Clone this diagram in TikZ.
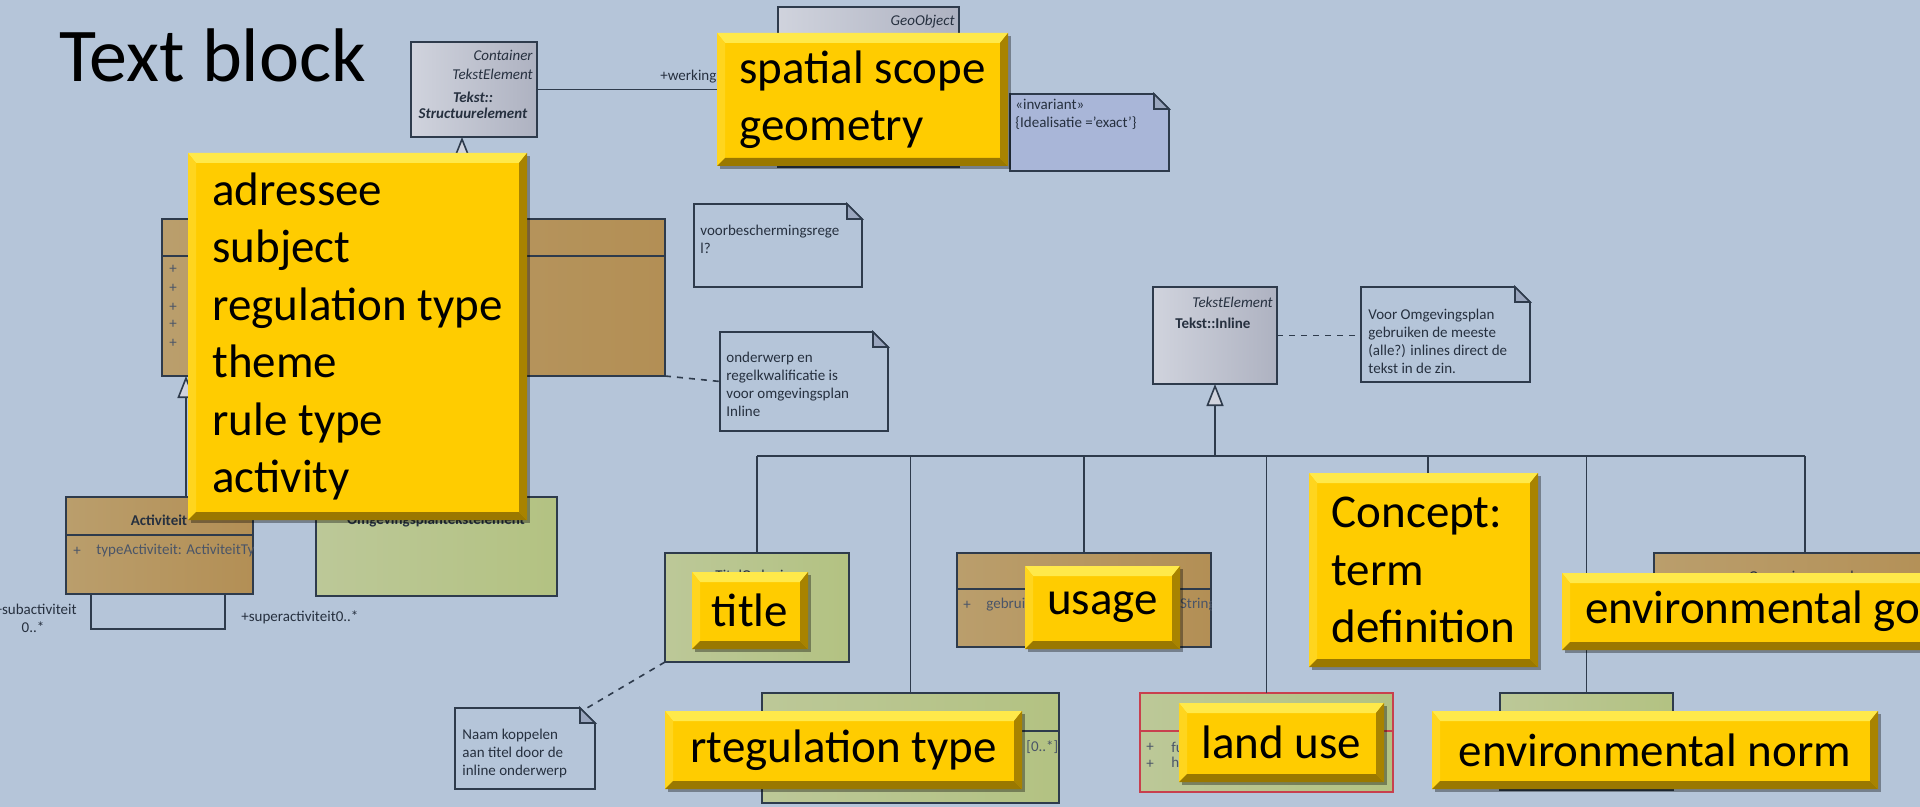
\documentclass[tikz,border=0pt]{standalone}
\usepackage{fontspec}
\setmainfont{Carlito}
\usetikzlibrary{arrows.meta,shadows}
\definecolor{bg}{HTML}{B5C5D9}
\definecolor{edge}{HTML}{2E3B4C}
\definecolor{umltxt}{HTML}{26303F}
\definecolor{attxt}{HTML}{4A5568}
\definecolor{grayL}{HTML}{D0D3DD}
\definecolor{grayR}{HTML}{AEB2C1}
\definecolor{brownL}{HTML}{BA9E6C}
\definecolor{brownR}{HTML}{B38F55}
\definecolor{greenL}{HTML}{BCC898}
\definecolor{greenR}{HTML}{B3C282}
\definecolor{notebg}{HTML}{B5C5D9}
\definecolor{noteinv}{HTML}{A9B6D8}
\definecolor{foldc}{HTML}{9AA6BE}
\definecolor{redb}{HTML}{C8404E}
\definecolor{yface}{HTML}{FFCC00}
\definecolor{ytop}{HTML}{FFE94A}
\definecolor{yleft}{HTML}{FFD51E}
\definecolor{yright}{HTML}{A88300}
\definecolor{ybot}{HTML}{9A7800}
\newcommand\ytext{\fontsize{23.5pt}{28.75pt}\selectfont}
\newcommand\umltext{\fontsize{7.5pt}{9pt}\selectfont}
\newcommand\titletext{\fontsize{38pt}{45pt}\selectfont}
\tikzset{
  wh/.style 2 args={minimum width=#1*0.5pt, minimum height=#2*0.5pt, anchor=north west, inner sep=0pt, outer sep=0pt},
  uml/.style={draw=edge, line width=0.8pt},
  grayc/.style={uml, left color=grayL, right color=grayR},
  brownc/.style={uml, left color=brownL, right color=brownR},
  greenc/.style={uml, left color=greenL, right color=greenR},
  lbl/.style={font=\umltext, text=umltxt, inner sep=0pt},
  attr/.style={font=\umltext, text=attxt, inner sep=0pt},
  conn/.style={draw=edge, line width=0.8pt},
  gen/.style={conn, -{Triangle[length=11pt, width=8.5pt, fill=grayL]}},
  dashc/.style={conn, dash pattern=on 3pt off 3pt},
  ybox/.style={fill=yface, font=\ytext, align=left, text=black,
    drop shadow={shadow xshift=1.5pt, shadow yshift=-1.5pt, opacity=0.35, fill=black},
    path picture={
      \fill[ytop] (path picture bounding box.north west) -- (path picture bounding box.north east)
        -- ([shift={(-4pt,-5pt)}]path picture bounding box.north east) -- ([shift={(4pt,-5pt)}]path picture bounding box.north west) -- cycle;
      \fill[yleft] (path picture bounding box.north west) -- ([shift={(4pt,-5pt)}]path picture bounding box.north west)
        -- ([shift={(4pt,4pt)}]path picture bounding box.south west) -- (path picture bounding box.south west) -- cycle;
      \fill[yright] (path picture bounding box.north east) -- (path picture bounding box.south east)
        -- ([shift={(-4pt,4pt)}]path picture bounding box.south east) -- ([shift={(-4pt,-5pt)}]path picture bounding box.north east) -- cycle;
      \fill[ybot] (path picture bounding box.south west) -- (path picture bounding box.south east)
        -- ([shift={(-4pt,4pt)}]path picture bounding box.south east) -- ([shift={(4pt,4pt)}]path picture bounding box.south west) -- cycle;
    }},
}
\newcommand\umlnote[6]{%
  \node[wh={#4}{#5}] (#1) at (#2,#3) {};
  \filldraw[fill=#6, draw=edge, line width=0.8pt] (#1.north west) -- ([xshift=-7.5pt]#1.north east)
    -- ([yshift=-7.5pt]#1.north east) -- (#1.south east) -- (#1.south west) -- cycle;
  \filldraw[fill=foldc, draw=edge, line width=0.8pt] ([xshift=-7.5pt]#1.north east)
    -- ([xshift=-7.5pt,yshift=-7.5pt]#1.north east) -- ([yshift=-7.5pt]#1.north east) -- cycle;
}
\begin{document}
\begin{tikzpicture}[x=0.5pt,y=-0.5pt]
\useasboundingbox (0,0) rectangle (1920,807);
\clip (0,0) rectangle (1920,807);
\fill[bg] (0,0) rectangle (1920,807);

% title
\node[font=\titletext, anchor=base west, inner sep=0pt] (title) at (59,82) {Text block};

% UML classes
\node[grayc, wh={126}{95}] (container) at (411,42) {};
\node[grayc, wh={181}{160}] (geo) at (778,7) {};
\node[brownc, wh={503}{157}] (regel) at (162,219) {};
\draw[uml] ([yshift=-18.5pt]regel.north west) -- ([yshift=-18.5pt]regel.north east);
\node[brownc, wh={187}{97}] (act) at (66,497) {};
\draw[uml] ([yshift=-19pt]act.north west) -- ([yshift=-19pt]act.north east);
\node[greenc, wh={241}{99}] (opl) at (316,497) {};
\node[grayc, wh={124}{97}] (inline) at (1153,287) {};
\node[greenc, wh={184}{109}] (titel) at (665,553) {};
\node[greenc, wh={297}{110}] (regtekst) at (762,693) {};
\draw[uml] ([yshift=-19pt]regtekst.north west) -- ([yshift=-19pt]regtekst.north east);
\node[brownc, wh={254}{94}] (gebruik) at (957,553) {};
\draw[uml] ([yshift=-18pt]gebruik.north west) -- ([yshift=-18pt]gebruik.north east);
\node[greenc, wh={253}{99}, draw=redb] (landuse) at (1140,693) {};
\draw[draw=redb, line width=0.8pt] ([yshift=-19pt]landuse.north west) -- ([yshift=-19pt]landuse.north east);
\node[greenc, wh={173}{97}] (norm) at (1500,693) {};
\node[brownc, wh={306}{92}] (waarde) at (1654,553) {};

% UML texts
\node[lbl, font=\umltext\itshape, anchor=east] (ct1) at (533,55) {Container};
\node[lbl, font=\umltext\itshape, anchor=east] (ct2) at (533,74) {TekstElement};
\node[lbl, font=\umltext\bfseries\itshape] (ct3) at (473,97) {Tekst::};
\node[lbl, font=\umltext\bfseries\itshape] (ct4) at (473,113) {Structuurelement};
\node[lbl, font=\umltext\itshape, anchor=east] (gt) at (955,22) {GeoObject};
\node[lbl, font=\umltext\itshape, anchor=east] (it1) at (1273,302) {TekstElement};
\node[lbl, font=\umltext\bfseries, anchor=west] (it2) at (1175,323) {Tekst::Inline};
\foreach \yy [count=\i] in {269,288,307,324,343} \node[attr] (rp\i) at (173,\yy) {+};
\node[lbl, font=\umltext\bfseries] (at1) at (159,520) {Activiteit};
\node[attr] (at2) at (77,551) {+};
\begin{scope}
  \clip (act.north west) rectangle (act.south east);
  \node[attr, anchor=west] (at3) at (96,551) {typeActiviteit: ActiviteitType};
\end{scope}
\node[lbl, font=\umltext\bfseries] (ot) at (436,521) {Omgevingsplantekstelement};
\node[lbl] (tt) at (757,577) {TitelOrdening};
\node[lbl] (wt) at (1805,578) {Omgevingswaarde};
\node[attr] (gp) at (967,605) {+};
\node[attr, anchor=west] (gt1) at (986,605) {gebruik};
\begin{scope}
  \clip (gebruik.north west) rectangle (gebruik.south east);
  \node[attr, anchor=east] (gt2) at (1216,605) {: String};
\end{scope}
\node[attr, anchor=west] (rt1) at (1026,747) {[0..*]};
\node[attr] (lp1) at (1150,747) {+};
\node[attr] (lp2) at (1150,764) {+};
\node[attr, anchor=west] (lf1) at (1171,747) {functie};
\node[attr, anchor=west] (lf2) at (1171,764) {hoofdgroep};

% connectors
\draw[conn] (container.east) -- (container.east -| geo.west);
\begin{scope}
  \clip (600,60) rectangle (717,100);
  \node[lbl, anchor=west] (wl) at (660,77) {+werkingsgebied};
\end{scope}
\coordinate (c1) at (462,0);
\draw[gen] (regel.north -| c1) -- (container.south -| c1);
\coordinate (c2) at (186,0);
\draw[gen] (act.north -| c2) -- (regel.south -| c2);
\coordinate (sa1) at (91,629);
\coordinate (sa2) at (225,629);
\draw[conn] (sa1 |- act.south) -- (sa1) -- (sa2) -- (sa2 |- act.south);
\node[lbl, anchor=east] (sub) at (77,609) {+subactiviteit};
\node[lbl] (subm) at (33,627) {0..*};
\node[lbl, anchor=west] (sup) at (241,617) {+superactiviteit0..*};

\coordinate (bus) at (0,456);
\coordinate (c5) at (1428,473);
\coordinate (c6) at (1805,0);
\draw[gen] (inline.south |- bus) -- (inline.south);
\draw[conn] (titel.north |- bus) -- (c6 |- bus);
\draw[conn] (titel.north |- bus) -- (titel.north);
\draw[conn] (regtekst.north |- bus) -- (regtekst.north);
\draw[conn] (gebruik.north |- bus) -- (gebruik.north);
\draw[conn] (landuse.north |- bus) -- (landuse.north);
\draw[conn] (c5 |- bus) -- (c5);
\draw[conn] (norm.north |- bus) -- (norm.north);
\draw[conn] (c6 |- bus) -- (c6 |- waarde.north);

% notes
\umlnote{ninv}{1010}{94}{159}{77}{noteinv}
\node[lbl, anchor=north west, align=left] (ninvt) at (1015,99) {«invariant»\\\{Idealisatie ='exact'\}};
\umlnote{nvoorb}{694}{204}{168}{83}{notebg}
\node[lbl, anchor=north west, align=left] (nvoorbt) at (700,225) {voorbeschermingsrege\\l?};
\umlnote{nond}{720}{332}{168}{99}{notebg}
\node[lbl, anchor=north west, align=left] (nondt) at (726,352) {onderwerp en\\regelkwalificatie is\\voor omgevingsplan\\Inline};
\umlnote{nomg}{1361}{287}{169}{95}{notebg}
\node[lbl, anchor=north west, align=left] (nomgt) at (1368,309) {Voor Omgevingsplan\\gebruiken de meeste\\(alle?) inlines direct de\\tekst in de zin.};
\umlnote{nnaam}{455}{708}{140}{81}{notebg}
\node[lbl, anchor=north west, align=left] (nnaamt) at (462,729) {Naam koppelen\\aan titel door de\\inline onderwerp};

\draw[dashc] (regel.south east) -- (nond.west);
\draw[dashc] (inline.east) -- (inline.east -| nomg.west);
\draw[dashc] (titel.south west) -- ([xshift=-4pt]nnaam.north east);

% yellow highlight boxes
\node[ybox, wh={291}{133}] (yspatial) at (717,33) {spatial scope\\geometry};
\node[ybox, wh={339}{367}] (yadr) at (188,153) {adressee\\subject\\regulation type\\theme\\rule type\\activity};
\node[ybox, wh={116}{77}] (ytitle) at (692,572) {title};
\node[ybox, wh={155}{83}] (yusage) at (1025,566) {usage};
\node[ybox, wh={357}{78}] (yreg) at (665,711) {rtegulation type};
\node[ybox, wh={205}{79}] (yland) at (1179,703) {land use};
\node[ybox, wh={229}{194}] (yconcept) at (1309,473) {Concept:\\term\\definition};
\node[ybox, wh={415}{77}] (ygoal) at (1562,573) {environmental goal};
\node[ybox, wh={446}{78}] (ynorm) at (1432,711) {environmental norm};
\end{tikzpicture}
\end{document}
